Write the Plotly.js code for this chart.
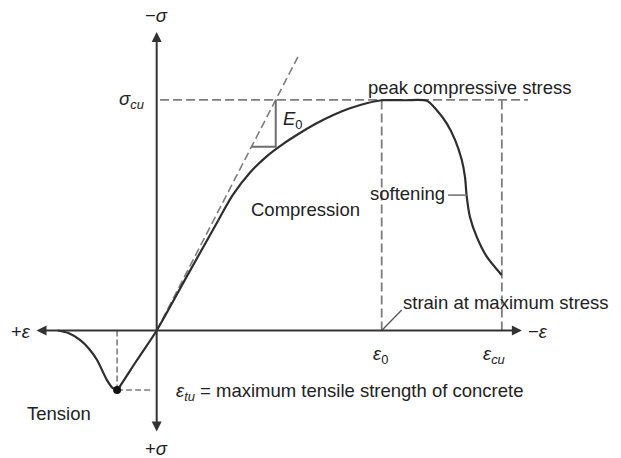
<!DOCTYPE html>
<html>
<head>
<meta charset="utf-8">
<script src="https://cdn.plot.ly/plotly-3.0.1.min.js"></script>
<style>html,body{margin:0;padding:0;background:#fff;}#chart{width:621px;height:458px;}</style>
</head>
<body>
<div id="chart"></div>
<script>
// Normalised strain (ε/ε0, compression positive to the right) and stress (σ/σcu)
const strainTension = [-0.439, -0.390, -0.341, -0.300, -0.265, -0.221, -0.195, -0.176, -0.155, -0.088, 0.000, 0.137, 0.274];
const stressTension = [0.000, -0.012, -0.041, -0.080, -0.128, -0.215, -0.250, -0.258, -0.229, -0.129, 0.000, 0.240, 0.478];
const strainComp = [0.274, 0.340, 0.415, 0.489, 0.561, 0.637, 0.711, 0.785, 0.859, 0.933, 1.000, 1.100, 1.200, 1.244, 1.289, 1.326, 1.356, 1.370, 1.378, 1.392, 1.422, 1.467, 1.533];
const stressComp = [0.478, 0.590, 0.685, 0.755, 0.808, 0.856, 0.898, 0.934, 0.963, 0.985, 0.998, 0.998, 0.996, 0.956, 0.898, 0.826, 0.739, 0.667, 0.580, 0.493, 0.407, 0.320, 0.241];
const eps0 = 1.0;        // strain at maximum stress
const epsCu = 1.534;     // ultimate strain
const sigmaCu = 1.0;     // peak compressive stress
const epsTu = -0.176;    // strain at max tensile stress
const sigmaTu = -0.258;  // max tensile stress
const E0 = 1.89;         // initial tangent modulus
const tangentEnd = 0.634;
const triangleStress = [0.797, 1.0];
const softeningPoint = [1.378, 0.587];

const W = 621, H = 458;
const xr = [-0.6964, 2.0636], yr = [-0.5527, 1.4326];
const px = x => x / W, py = y => 1 - y / H;

const curveColor = '#2e2e2e', dashColor = '#7d7d7d', txt = '#222222';
const font = {family: 'Liberation Sans, Arial, sans-serif', size: 18.5, color: txt};
const curveLine = {color: curveColor, width: 2.2, shape: 'spline', smoothing: 0.8};

const traces = [
  {x: [0, tangentEnd], y: [0, E0 * tangentEnd], mode: 'lines',
   line: {color: dashColor, width: 1.6, dash: '8px,4px'}, hoverinfo: 'skip'},
  {x: strainTension, y: stressTension, mode: 'lines', line: curveLine, hoverinfo: 'skip'},
  {x: strainComp, y: stressComp, mode: 'lines', line: curveLine, hoverinfo: 'skip'},
  {x: [triangleStress[0] / E0, triangleStress[1] / E0, triangleStress[1] / E0],
   y: [triangleStress[0], triangleStress[0], triangleStress[1]], mode: 'lines',
   line: {color: '#6e6e6e', width: 2}, hoverinfo: 'skip'},
  {x: [epsTu], y: [sigmaTu], mode: 'markers',
   marker: {color: '#111', size: 8}, hoverinfo: 'skip'}
];

const dash = {color: dashColor, width: 1.8, dash: '9px,4px'};
const shapes = [
  {type: 'line', xref: 'x', yref: 'y', x0: 0.015, x1: 1.65, y0: sigmaCu, y1: sigmaCu, line: dash, layer: 'below'},
  {type: 'line', xref: 'x', yref: 'y', x0: eps0, x1: eps0, y0: 0, y1: sigmaCu, line: dash, layer: 'below'},
  {type: 'line', xref: 'x', yref: 'y', x0: epsCu, x1: epsCu, y0: 0, y1: sigmaCu, line: dash, layer: 'below'},
  {type: 'line', xref: 'x', yref: 'y', x0: epsTu, x1: epsTu, y0: 0, y1: sigmaTu, line: {color: dashColor, width: 1.6, dash: '6px,3px'}, layer: 'below'},
  {type: 'line', xref: 'x', yref: 'y', x0: epsTu, x1: -0.016, y0: sigmaTu, y1: sigmaTu, line: {color: dashColor, width: 1.6, dash: '6px,3px'}, layer: 'below'},
  // softening leader
  {type: 'line', xref: 'x', yref: 'y', x0: 1.295, x1: softeningPoint[0], y0: softeningPoint[1], y1: softeningPoint[1], line: {color: '#777', width: 1.6}},
  // strain at max stress leader
  {type: 'line', xref: 'x', yref: 'y', x0: eps0, x1: eps0 + 0.089, y0: 0, y1: 0.089, line: {color: '#555', width: 1.3}}
];

const ann = (x, y, text, xanchor, extra) => Object.assign({
  xref: 'paper', yref: 'paper', x: px(x), y: py(y), text: text, showarrow: false,
  xanchor: xanchor || 'center', yanchor: 'middle', font: font
}, extra || {});

const annotations = [
  // axes with arrowheads
  {xref: 'x', yref: 'y', axref: 'x', ayref: 'y', x: 1.623, y: 0, ax: -0.541, ay: 0, text: '',
   showarrow: true, arrowside: 'end+start', arrowhead: 2, arrowsize: 1, arrowwidth: 2, arrowcolor: '#333', standoff: 0, startstandoff: 0},
  {xref: 'x', yref: 'y', axref: 'x', ayref: 'y', x: 0, y: 1.294, ax: 0, ay: -0.444, text: '',
   showarrow: true, arrowside: 'end+start', arrowhead: 2, arrowsize: 1, arrowwidth: 2, arrowcolor: '#333', standoff: 0, startstandoff: 0},
  ann(156, 16, '\u2212<i>\u03c3</i>'),
  ann(156, 448, '+<i>\u03c3</i>'),
  ann(33, 331, '+<i>\u03b5</i>', 'right'),
  ann(526, 331, '\u2212<i>\u03b5</i>', 'left'),
  ann(146, 100, '<i>\u03c3<sub>cu</sub></i>', 'right'),
  ann(281, 120, '<i>E</i><sub>0</sub>', 'left'),
  ann(249, 209, 'Compression', 'left'),
  ann(366, 87, 'peak compressive stress', 'left'),
  ann(368, 193, 'softening', 'left'),
  ann(401, 302, 'strain at maximum stress', 'left'),
  ann(380, 355, '<i>\u03b5</i><sub>0</sub>'),
  ann(494, 355, '<i>\u03b5<sub>cu</sub></i>'),
  ann(174, 392, '<i>\u03b5<sub>tu</sub></i> = maximum tensile strength of concrete', 'left'),
  ann(25, 413, 'Tension', 'left')
];

const layout = {
  width: W, height: H,
  margin: {l: 0, r: 0, t: 0, b: 0},
  paper_bgcolor: '#ffffff', plot_bgcolor: '#ffffff',
  showlegend: false,
  xaxis: {range: xr, visible: false, fixedrange: true},
  yaxis: {range: yr, visible: false, fixedrange: true},
  shapes: shapes,
  annotations: annotations
};

Plotly.newPlot('chart', traces, layout, {displayModeBar: false, staticPlot: true});
</script>
</body>
</html>
